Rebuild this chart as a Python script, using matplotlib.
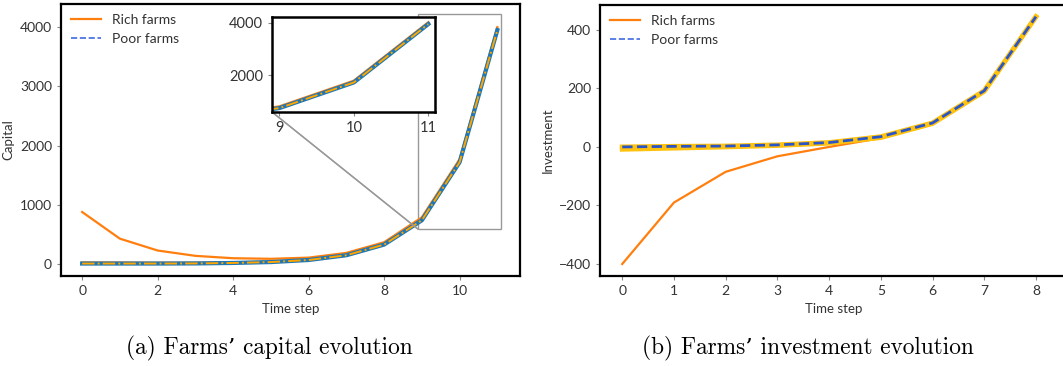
import matplotlib
matplotlib.use("Agg")
import matplotlib.pyplot as plt
from mpl_toolkits.axes_grid1.inset_locator import mark_inset

plt.rcParams['font.family'] = ['Lato', 'DejaVu Sans']

# capital per time step
steps_cap = list(range(12))
rich_cap = [880, 430, 230, 140, 100, 90, 110, 190, 370, 790, 1770, 4000]
rich_cap_low = [30, 28, 25, 25, 30, 45, 80, 165, 350, 770, 1750, 3980]
poor_cap = [10, 10, 10, 12, 20, 35, 70, 150, 330, 740, 1720, 3950]

# investment per time step
steps_inv = list(range(9))
rich_inv = [-400, -190, -85, -32, 0, 30, 80, 190, 445]
rich_inv_low = [-8, -4, 0, 5, 13, 32, 80, 190, 445]
poor_inv = [0, 2, 3, 7, 15, 35, 82, 192, 445]

inset_ticks = [9, 10, 11]

ORANGE = "#ff7f0e"
TXT = "#333333"

fig = plt.figure(figsize=(10.63, 3.66), dpi=100)
W, H = 1063, 366


def px_axes(l, t, r, b):
    return fig.add_axes([l / W, 1 - b / H, (r - l) / W, (b - t) / H])


def style(ax, lw=1.6):
    for s in ax.spines.values():
        s.set_linewidth(lw)
        s.set_color("black")
    ax.tick_params(labelsize=10, colors="#888888", labelcolor=TXT, length=3, width=0.8)


# (a) capital
ax1 = px_axes(61, 4, 520, 276)
ax1.plot(steps_cap, rich_cap, color=ORANGE, lw=1.6, label="Rich farms")
ax1.plot(steps_cap, rich_cap_low, color=ORANGE, lw=1.6)
ax1.plot(steps_cap, poor_cap, color="#1f77b4", lw=3)
ax1.plot(steps_cap, poor_cap, color="#ffa500", lw=1.4, ls="-.")
ax1.plot([], [], color="#4169e1", lw=1.2, ls="--", label="Poor farms")
ax1.set_xlim(-0.56, 11.6)
ax1.set_ylim(-200, 4390)
ax1.set_xticks([0, 2, 4, 6, 8, 10])
ax1.set_yticks([0, 1000, 2000, 3000, 4000])
ax1.set_xlabel("Time step", fontsize=9.5, color=TXT)
ax1.set_ylabel("Capital", fontsize=9.5, color=TXT)
style(ax1)
ax1.legend(loc="upper left", frameon=False, fontsize=10, handlelength=2.2,
           labelcolor=TXT, borderaxespad=0.3)

axin = px_axes(272, 17, 435, 112)
axin.plot(steps_cap, rich_cap, color=ORANGE, lw=2.2)
axin.plot(steps_cap, poor_cap, color="#1f77b4", lw=3)
axin.plot(steps_cap, poor_cap, color="#ffa500", lw=1.4, ls="-.")
axin.set_xlim(8.9, 11.09)
axin.set_ylim(590, 4220)
axin.set_xticks(inset_ticks)
axin.set_yticks([2000, 4000])
style(axin, lw=1.8)
axin.tick_params(labelsize=10.5)
mark_inset(ax1, axin, loc1=3, loc2=3, fc="none", ec="0.6", lw=1)

# (b) investment
ax2 = px_axes(600, 5, 1068, 276)
ax2.plot(steps_inv, rich_inv, color=ORANGE, lw=1.6, label="Rich farms")
ax2.plot(steps_inv, rich_inv_low, color="#ffc20e", lw=3.5)
ax2.plot(steps_inv, poor_inv, color="#ffc20e", lw=3.5)
ax2.plot(steps_inv, poor_inv, color="#2a55c8", lw=2, ls="--")
ax2.plot([], [], color="#4169e1", lw=1.2, ls="--", label="Poor farms")
ax2.set_xlim(-0.43, 8.62)
ax2.set_ylim(-441, 485)
ax2.set_xticks(steps_inv)
ax2.set_yticks([-400, -200, 0, 200, 400])
ax2.set_xlabel("Time step", fontsize=9.5, color=TXT)
ax2.set_ylabel("Investment", fontsize=9.5, color=TXT)
style(ax2)
ax2.legend(loc="upper left", frameon=False, fontsize=10, handlelength=2.2,
           labelcolor=TXT, borderaxespad=0.3)

cap_font = ["cmr10", "DejaVu Serif"]
fig.text(269 / W, 1 - 348 / H, "(a) Farms\u2019 capital evolution", family=cap_font,
         fontsize=16.8, ha="center", va="center")
fig.text(808 / W, 1 - 348 / H, "(b) Farms\u2019 investment evolution", family=cap_font,
         fontsize=16.8, ha="center", va="center")

fig.savefig("out.png", dpi=100)
